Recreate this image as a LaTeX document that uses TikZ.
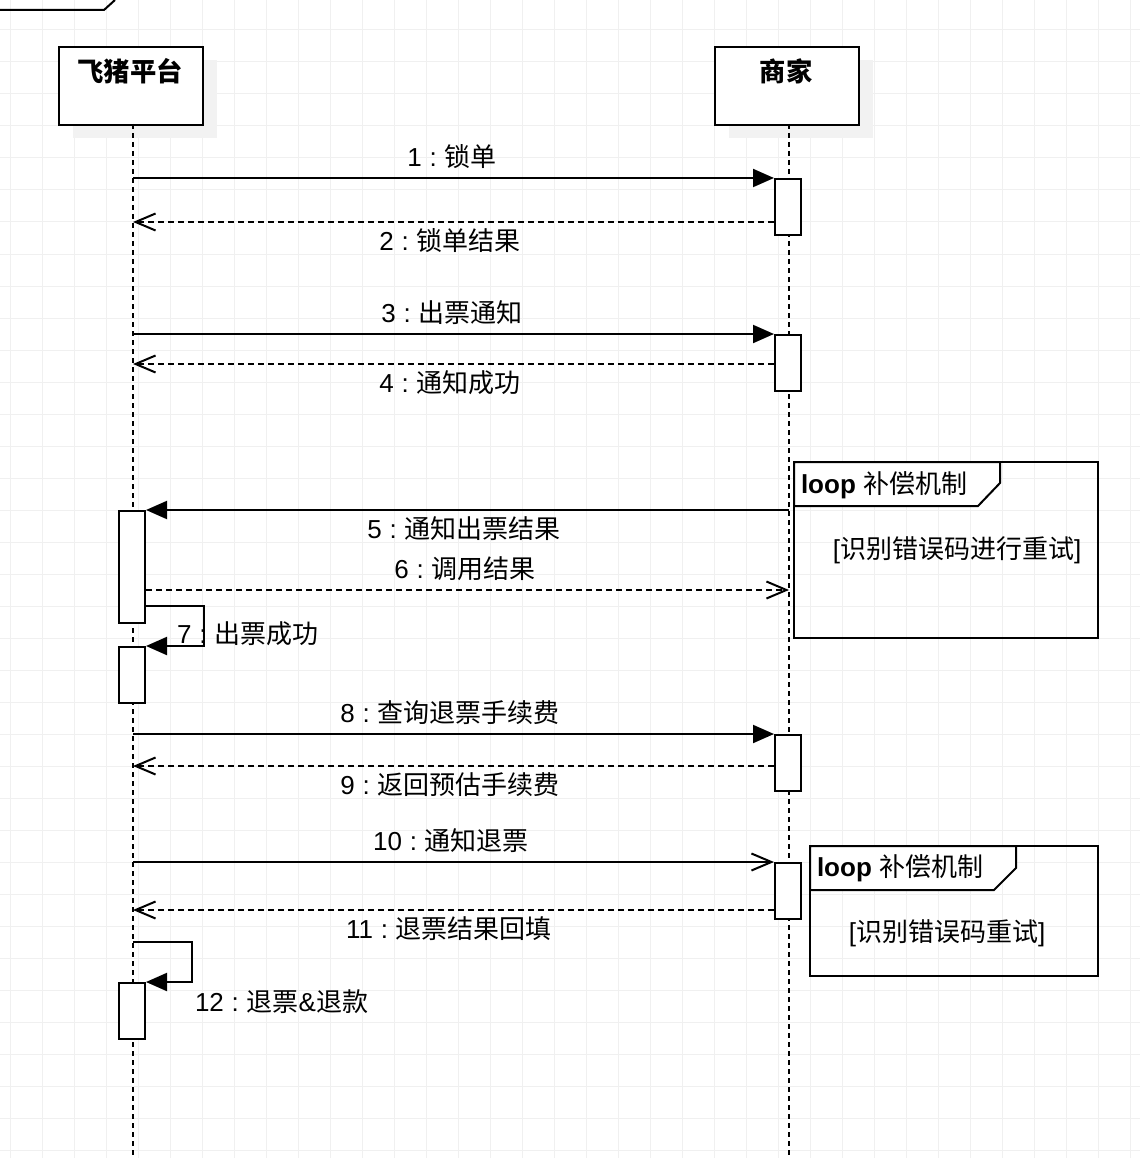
\documentclass[tikz,border=0pt]{standalone}
\usepackage{fontspec}
\setmainfont{Liberation Sans}
\newfontfamily\cjk{Noto Sans CJK SC}
\usetikzlibrary{arrows.meta}
\newcommand{\zh}[1]{{\cjk #1}}
\newcommand{\cc}{\hspace{0.3em}:\hspace{0.3em}}
\definecolor{gridc}{HTML}{F0F0F0}
\definecolor{shadowc}{HTML}{F2F2F2}
\begin{document}
\begin{tikzpicture}[x=1pt,y=-1pt, line width=2pt,
  lbl/.style={font=\fontsize{26}{31}\selectfont, inner sep=0pt},
  ttl/.style={font=\fontsize{26.3}{31}\selectfont\bfseries, inner sep=0pt},
  head/.style={draw, fill=white, minimum width=144pt, minimum height=78pt, anchor=north west, inner sep=0pt},
  shade/.style={fill=shadowc, draw=none, minimum width=144pt, minimum height=78pt, anchor=north west, inner sep=0pt},
  act/.style={draw, fill=white, minimum width=26pt, minimum height=56pt, anchor=north west, inner sep=0pt},
  lifeline/.style={dash pattern=on 5pt off 4pt},
  msg/.style={-{Triangle[length=21pt,width=18pt]}},
  opn/.style={-{Straight Barb[length=20pt,width=17pt]}},
  ret/.style={dash pattern=on 6pt off 4pt, -{Straight Barb[length=20pt,width=17pt]}},
  frm/.style={draw},
  pent/.style={draw, fill=white}
]
\useasboundingbox (0,0) rectangle (1140,1158);
\fill[white] (0,0) rectangle (1140,1158);
% grid
\foreach \gx in {10,42,...,1140} \draw[gridc, line width=1pt] (\gx,0) -- (\gx,1158);
\foreach \gy in {30,62,...,1158} \draw[gridc, line width=1pt] (0,\gy) -- (1140,\gy);

% top-left fragment of a frame
\draw (0,10) -- (104,10) -- (115,0);

% shadows
\node[shade] (s1) at (72,59) {};
\node[shade] (s2) at (728,59) {};
% heads
\node[head] (h1) at (58,46) {};
\node[head] (h2) at (714,46) {};
\node[ttl] (t1) at (130,71) {\zh{飞猪平台}};
\node[ttl] (t2) at (786,71) {\zh{商家}};

% lifelines
\coordinate (L1t) at (133,124);
\coordinate (L1b) at (133,1158);
\coordinate (L2t) at (789,124);
\coordinate (L2b) at (789,1158);
\draw[lifeline] (L1t) -- (L1b);
\draw[lifeline] (L2t) -- (L2b);

% activations
\node[act] (a1) at (774,178) {};
\node[act] (a2) at (774,334) {};
\node[act, minimum height=112pt] (a5) at (118,510) {};
\node[act] (a7) at (118,646) {};
\node[act] (a8) at (774,734) {};
\node[act] (a10) at (774,862) {};
\node[act] (a12) at (118,982) {};

% message anchor points on lifelines
\coordinate (m1) at (133,178);
\coordinate (m2) at (133,222);
\coordinate (m3) at (133,334);
\coordinate (m4) at (133,364);
\coordinate (m5) at (789,510);
\coordinate (m6) at (789,590);
\coordinate (m7) at (204,606);
\coordinate (m8) at (133,734);
\coordinate (m9) at (133,766);
\coordinate (m10) at (133,862);
\coordinate (m11) at (133,910);
\coordinate (m12) at (133,942);
\coordinate (k12) at (192,942);

% messages
\draw[msg] (m1) -- (a1.north west);
\draw[ret] (a1.west |- m2) -- (m2);
\draw[msg] (m3) -- (a2.north west);
\draw[ret] (a2.west |- m4) -- (m4);
\draw[msg] (m5) -- (a5.north east);
\draw[ret] (a5.east |- m6) -- (m6);
\draw[msg] (a5.east |- m7) -- (m7) |- (a7.north east);
\draw[msg] (m8) -- (a8.north west);
\draw[ret] (a8.west |- m9) -- (m9);
\draw[opn] (m10) -- (a10.north west);
\draw[ret] (a10.west |- m11) -- (m11);
\draw[msg] (m12) -- (k12) |- (a12.north east);

% labels
\node[lbl] (l1) at (452,157) {1\cc\zh{锁单}};
\node[lbl] (l2) at (450,241) {2\cc\zh{锁单结果}};
\node[lbl] (l3) at (452,313) {3\cc\zh{出票通知}};
\node[lbl] (l4) at (450,383) {4\cc\zh{通知成功}};
\node[lbl] (l5) at (464,529) {5\cc\zh{通知出票结果}};
\node[lbl] (l6) at (465,569) {6\cc\zh{调用结果}};
\node[lbl, anchor=west] (l7) at (176,634) {7\cc\zh{出票成功}};
\node[lbl] (l8) at (450,713) {8\cc\zh{查询退票手续费}};
\node[lbl] (l9) at (450,785) {9\cc\zh{返回预估手续费}};
\node[lbl] (l10) at (451,841) {10\cc\zh{通知退票}};
\node[lbl] (l11) at (449,929) {11\cc\zh{退票结果回填}};
\node[lbl, anchor=west] (l12) at (194,1002) {12\cc\zh{退票}\&\zh{退款}};

% loop frame 1
\draw[frm] (794,462) rectangle (1098,638);
\draw[pent] (794,462) -- (1000,462) -- (1000,483) -- (978,506) -- (794,506) -- cycle;
\node[lbl, anchor=west] (f1t) at (800,485) {\textbf{loop} \zh{补偿机制}};
\node[lbl] (f1g) at (957,550) {[\zh{识别错误码进行重试}]};

% loop frame 2
\draw[frm] (810,846) rectangle (1098,976);
\draw[pent] (810,846) -- (1016,846) -- (1016,868) -- (994,890) -- (810,890) -- cycle;
\node[lbl, anchor=west] (f2t) at (816,868) {\textbf{loop} \zh{补偿机制}};
\node[lbl] (f2g) at (947,933) {[\zh{识别错误码重试}]};
\end{tikzpicture}
\end{document}
